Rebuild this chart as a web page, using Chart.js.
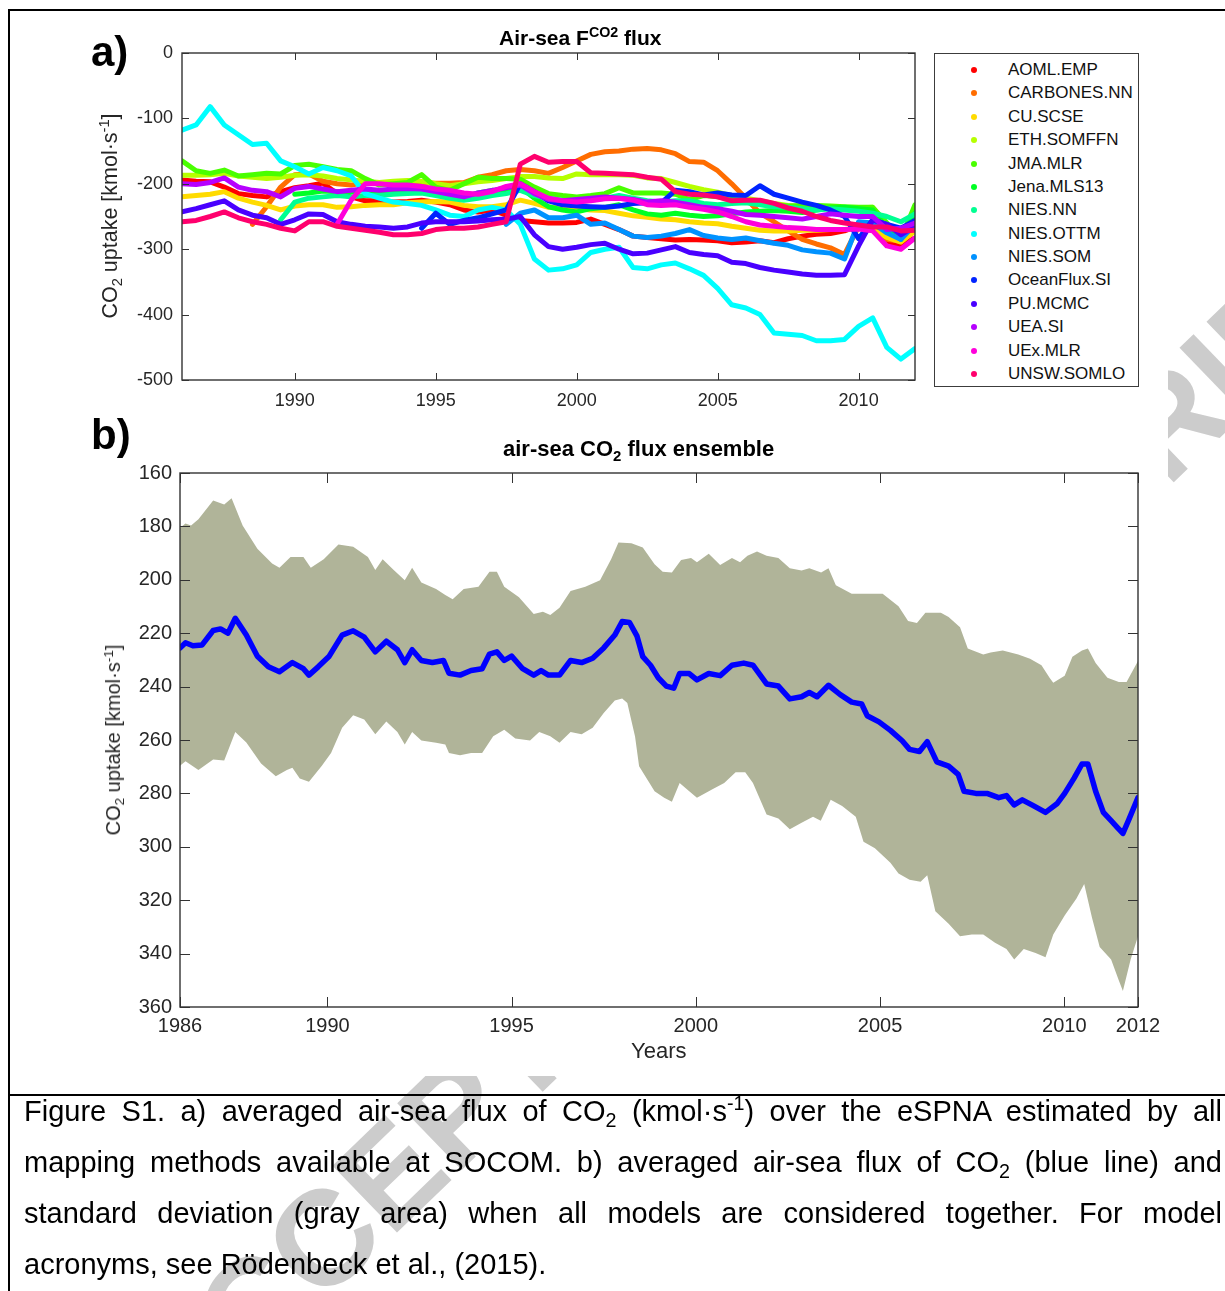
<!DOCTYPE html>
<html>
<head>
<meta charset="utf-8">
<title>Air-sea CO2 flux over the eSPNA</title>
<script src="https://cdn.jsdelivr.net/npm/chart.js@4.4.1/dist/chart.umd.min.js"></script>
<style>
  html, body { margin: 0; padding: 0; background: #fff; }
  body { width: 1225px; height: 1291px; position: relative; overflow: hidden;
         font-family: "Liberation Sans", Arial, Helvetica, sans-serif; color: #000; }
  .abs { position: absolute; }
  #wm { left: 0; top: 0; z-index: 0; }
  #sheet { left: 10px; top: 11px; width: 1158px; height: 1065px; background: #fff; z-index: 1; }
  #cTop { left: 0; top: 0; z-index: 2; }
  #cBot { left: 0; top: 420px; z-index: 2; }
  .rule { background: #000; z-index: 6; }
  .lbl { z-index: 3; line-height: 1; white-space: nowrap; color: #000; }
  .panel { font-weight: bold; font-size: 42px; }
  .ttl { font-weight: bold; font-size: 21px; }
  .ytitle { font-size: 20px; color: #262626; transform: translate(-50%, -50%) rotate(-90deg); }
  .xtitle { font-size: 22px; color: #262626; }
  sup.s, sub.s { font-size: 0.68em; position: relative; vertical-align: baseline; line-height: 0; }
  sup.s { top: -0.55em; }
  sub.s { top: 0.32em; }
  #legend { left: 934px; top: 53px; width: 205px; height: 334px; box-sizing: border-box;
            border: 1px solid #3c3c3c; background: #fff; z-index: 3; }
  .lgRow { position: absolute; left: 0; width: 100%; height: 20px; }
  .dot { position: absolute; left: 36px; width: 6px; height: 6px; border-radius: 50%; }
  .lgTxt { position: absolute; left: 73px; font-size: 17px; line-height: 1; white-space: nowrap; color: #111; }
  #caption { left: 24px; top: 1086px; width: 1198px; font-size: 29px; line-height: 51px; z-index: 3; color: #000; }
  #caption .j { text-align: justify; text-align-last: justify; }
</style>
</head>
<body>
<canvas id="wm" class="abs" width="1225" height="1291"></canvas>
<div id="sheet" class="abs"></div>

<canvas id="cTop" class="abs" width="1225" height="420"></canvas>
<canvas id="cBot" class="abs" width="1225" height="660"></canvas>

<div class="abs lbl panel" style="left:91px; top:31px;">a)</div>
<div class="abs lbl panel" style="left:91px; top:414px;">b)</div>

<div class="abs lbl ttl" style="left:499px; top:27px;">Air-sea F<sup class="s">CO2</sup> flux</div>
<div class="abs lbl ttl" style="left:503px; top:438px; font-size:22px;">air-sea CO<sub class="s">2</sub> flux ensemble</div>

<div class="abs lbl ytitle" style="left:111px; top:216px; font-size:21.5px;">CO<sub class="s">2</sub> uptake [kmol·s<sup class="s">-1</sup>]</div>
<div class="abs lbl ytitle" style="left:113px; top:740px;">CO<sub class="s">2</sub> uptake [kmol·s<sup class="s">-1</sup>]</div>
<div class="abs lbl xtitle" style="left:631px; top:1040px;">Years</div>

<div id="legend" class="abs"></div>

<div class="abs rule" style="left:8px; top:9px; width:1217px; height:2px;"></div>
<div class="abs rule" style="left:8px; top:9px; width:2px; height:1282px;"></div>
<div class="abs rule" style="left:8px; top:1094px; width:1217px; height:2px;"></div>

<div id="caption" class="abs">
  <div class="j">Figure S1. a) averaged air-sea flux of CO<sub class="s">2</sub> (kmol·s<sup class="s">-1</sup>) over the eSPNA estimated by all</div>
  <div class="j">mapping methods available at SOCOM. b) averaged air-sea flux of CO<sub class="s">2</sub> (blue line) and</div>
  <div class="j">standard deviation (gray area) when all models are considered together. For model</div>
  <div>acronyms, see Rödenbeck et al., (2015).</div>
</div>

<script>
// ---------- Panel a: flux estimated by each mapping method (half-year samples) ----------
const years = [1986, 1986.5, 1987, 1987.5, 1988, 1988.5, 1989, 1989.5, 1990, 1990.5,
               1991, 1991.5, 1992, 1992.5, 1993, 1993.5, 1994, 1994.5, 1995, 1995.5,
               1996, 1996.5, 1997, 1997.5, 1998, 1998.5, 1999, 1999.5, 2000, 2000.5,
               2001, 2001.5, 2002, 2002.5, 2003, 2003.5, 2004, 2004.5, 2005, 2005.5,
               2006, 2006.5, 2007, 2007.5, 2008, 2008.5, 2009, 2009.5, 2010, 2010.5,
               2011, 2011.5, 2012];

const seriesNames = ['AOML.EMP', 'CARBONES.NN', 'CU.SCSE', 'ETH.SOMFFN', 'JMA.MLR', 'Jena.MLS13',
                     'NIES.NN', 'NIES.OTTM', 'NIES.SOM', 'OceanFlux.SI', 'PU.MCMC', 'UEA.SI',
                     'UEx.MLR', 'UNSW.SOMLO'];

const seriesColors = ['#ff0000', '#ff6d00', '#ffdb00', '#b6ff00', '#49ff00', '#00ff24', '#00ff92',
                      '#00ffff', '#0092ff', '#0024ff', '#4900ff', '#b600ff', '#ff00db', '#ff006d'];

const aomlEmp = [-194,-196,-197,-205,-215,-218,-220,-212,-206,-203,
                 -199,-215,-220,-226,-226,-228,-227,-225,-228,-232,
                 -240,-243,-240,-248,-256,-258,-260,-260,-259,-254,
                 -262,-270,-280,-282,-284,-286,-285,-286,-287,-290,
                 -289,-287,-290,-284,-280,-277,-276,-272,-264,-262,
                 -292,-294,-283];

const carbonesNn = [null,null,null,null,null,
                    -262,-235,-205,-186,-185,-196,-200,-202,-198,-198,
                    -198,-197,-198,-199,-199,-198,-190,-186,-180,-178,
                    -180,-184,-175,-165,-155,-151,-150,-147,-146,-148,
                    -154,-166,-167,-180,-200,-222,-245,-258,-272,-285,
                    -292,-298,-308,-265,-262,-285,-288,-272];

const cuScse = [-220,-218,-216,-212,-222,-228,-233,-240,-234,-232,
                -232,-236,-235,-233,-232,-232,-229,-228,-227,-228,
                -233,-235,-235,-232,-225,-230,-236,-236,-238,-240,
                -241,-245,-249,-251,-254,-255,-258,-260,-261,-265,
                -268,-271,-272,-272,-271,-271,-270,-270,-268,-270,
                -282,-289,-272];

const ethSomffn = [-187,-187,-186,-184,-188,-190,-192,-190,-187,-186,
                   -188,-192,-194,-196,-198,-196,-195,-196,-200,-203,
                   -200,-197,-195,-192,-189,-189,-191,-192,-185,-186,
                   -186,-186,-187,-191,-192,-198,-204,-209,-213,-218,
                   -222,-226,-230,-233,-235,-236,-236,-237,-237,-236,
                   -262,-275,-262];

const jmaMlr = [-165,-180,-184,-179,-188,-186,-184,-185,-172,-170,
                -174,-178,-180,-192,-202,-200,-198,-186,-205,-210,
                -200,-190,-192,-192,-193,-205,-215,-218,-220,-218,
                -215,-206,-214,-214,-214,-216,-224,-218,-220,-224,
                -228,-230,-232,-234,-233,-233,-234,-235,-236,-236,
                -260,-285,-232];

const jenaMls13 = [null,null,null,null,null,null,null,null,
                   -216,-214,-211,-212,-212,-210,-212,-213,-212,-210,
                   -213,-218,-222,-214,-210,-212,-205,-222,-235,-240,
                   -243,-238,-236,-232,-240,-246,-248,-245,-248,-250,
                   -249,-246,-243,-242,-241,-242,-244,-240,-237,-236,
                   -238,-240,-268,-285,-245];

const niesNn = [null,null,null,null,null,null,null,
                -255,-228,-222,-220,-218,-220,-218,-218,-216,-215,
                -214,-218,-222,-225,-222,-218,-215,-210,-218,-222,
                -225,-228,-225,-222,-218,-222,-226,-228,-226,-226,
                -230,-232,-230,-229,-232,-235,-236,-238,-240,-238,
                -240,-242,-245,-250,-258,-246];

const niesOttm = [-118,-110,-82,-110,-125,-140,-138,-165,-174,-185,
                  -175,-180,-188,-215,-222,-228,-230,-233,-240,-248,
                  -250,-240,-236,-240,-262,-315,-332,-330,-324,-305,
                  -300,-297,-328,-330,-324,-321,-330,-340,-360,-385,
                  -390,-400,-428,-430,-432,-440,-440,-438,-418,-405,
                  -450,-468,-452];

const niesSom = [null,null,null,null,null,null,null,null,null,null,
                 null,null,null,null,null,null,null,null,null,null,
                 null,null,null,
                 -262,-245,-240,-252,-252,-248,-262,-260,-270,-280,
                 -282,-280,-276,-270,-279,-283,-285,-283,-287,-291,
                 -294,-301,-304,-306,-315,-258,-260,-275,-285,-262];

const oceanFluxSi = [null,null,null,null,null,null,null,null,null,null,
                     null,null,null,null,null,null,null,
                     -268,-245,-262,-256,-252,-246,-240,-200,-212,-226,
                     -232,-234,-235,-236,-234,-230,-229,-229,-210,-212,
                     -217,-214,-217,-218,-203,-216,-222,-228,-233,-240,
                     -250,-284,-255,-262,-268,-256];

const puMcmc = [-243,-238,-232,-226,-240,-248,-252,-262,-255,-246,
                -247,-258,-262,-265,-266,-268,-266,-260,-258,-258,
                -258,-257,-255,-254,-250,-278,-296,-300,-297,-293,
                -291,-300,-307,-306,-301,-296,-305,-308,-310,-320,
                -322,-328,-332,-335,-338,-340,-340,-339,-295,-255,
                -262,-278,-265];

const ueaSi = [-200,-201,-198,-191,-205,-210,-212,-220,-207,-204,
               -208,-212,-210,-208,-210,-208,-207,-208,-212,-216,
               -220,-214,-210,-206,-202,-215,-224,-226,-224,-222,
               -220,-222,-224,-228,-226,-228,-232,-236,-238,-242,
               -247,-248,-250,-252,-254,-250,-246,-248,-250,-250,
               -270,-268,-260];

const uexMlr = [null,null,null,null,null,null,null,null,null,null,null,
                -262,-225,-200,-200,-202,-202,-204,-208,-210,-214,
                -216,-212,-204,-200,-212,-222,-226,-228,-226,-223,
                -222,-225,-232,-233,-232,-236,-239,-243,-250,-258,
                -263,-265,-267,-268,-270,-270,-270,-269,-272,-295,
                -300,-283];

const unswSomlo = [-258,-256,-250,-243,-252,-258,-262,-268,-272,-258,
                   -258,-265,-268,-271,-274,-278,-278,-276,-270,-268,
                   -268,-266,-262,-258,-170,-158,-167,-166,-166,-183,
                   -184,-185,-186,-190,-193,-212,-216,-217,-220,-226,
                   -225,-225,-230,-237,-242,-250,-256,-260,-263,-266,
                   -266,-272,-271];

const seriesValues = [aomlEmp, carbonesNn, cuScse, ethSomffn, jmaMlr, jenaMls13, niesNn,
                      niesOttm, niesSom, oceanFluxSi, puMcmc, ueaSi, uexMlr, unswSomlo];

const topXTicks = [1990, 1995, 2000, 2005, 2010];
const topYTicks = [0, -100, -200, -300, -400, -500];

// ---------- Panel b: ensemble mean and +/- one standard deviation ----------
const meanYears = [1986.0, 1986.15, 1986.35, 1986.6, 1986.9, 1987.1, 1987.3, 1987.5, 1987.8, 1988.1,
                   1988.4, 1988.7, 1989.05, 1989.35, 1989.5, 1989.75, 1990.05, 1990.4, 1990.7, 1991.0,
                   1991.3, 1991.6, 1991.9, 1992.1, 1992.3, 1992.55, 1992.85, 1993.15, 1993.3, 1993.6,
                   1993.9, 1994.2, 1994.4, 1994.6, 1994.8, 1995.0, 1995.3, 1995.6, 1995.8, 1996.0,
                   1996.3, 1996.6, 1996.9, 1997.2, 1997.5, 1997.8, 1998.0, 1998.2, 1998.4, 1998.56,
                   1998.77, 1998.98, 1999.2, 1999.4, 1999.56, 1999.82, 2000.03, 2000.35, 2000.66, 2000.98,
                   2001.3, 2001.55, 2001.92, 2002.24, 2002.55, 2002.87, 2003.08, 2003.29, 2003.6, 2003.92,
                   2004.23, 2004.5, 2004.65, 2004.97, 2005.28, 2005.6, 2005.8, 2006.07, 2006.28, 2006.54,
                   2006.86, 2007.12, 2007.28, 2007.6, 2007.9, 2008.22, 2008.43, 2008.64, 2008.86, 2009.17,
                   2009.49, 2009.8, 2010.01, 2010.27, 2010.48, 2010.64, 2010.85, 2011.06, 2011.27, 2011.43,
                   2011.59, 2011.74, 2012.0];
const meanFlux = [225.5, 223.6, 224.7, 224.4, 219.0, 218.4, 220.0, 214.4, 220.7, 228.6,
                  232.6, 234.4, 231.0, 233.3, 235.7, 232.6, 228.6, 220.7, 219.1, 221.5,
                  227.0, 223.0, 226.2, 231.0, 226.2, 230.2, 231.0, 230.2, 235.0, 235.7,
                  234.0, 233.3, 227.8, 227.0, 230.2, 228.6, 233.3, 235.7, 234.0, 235.7,
                  235.7, 230.2, 231.0, 229.4, 225.5, 220.7, 215.6, 216.0, 221.0, 228.8,
                  232.0, 236.7, 239.8, 240.6, 235.1, 235.1, 237.5, 235.1, 235.9, 232.0,
                  231.2, 232.0, 239.0, 239.8, 244.6, 243.8, 242.2, 243.8, 239.5, 243.0,
                  245.8, 246.5, 250.9, 253.2, 256.4, 260.3, 263.5, 264.3, 260.6, 268.2,
                  269.8, 272.9, 279.2, 280.0, 280.0, 281.6, 280.8, 284.3, 282.4, 284.7,
                  287.1, 283.9, 280.0, 274.2, 269.0, 269.0, 279.2, 287.1, 290.2, 292.6,
                  295.0, 290.2, 281.6];

const upperYears = [1986.0, 1986.15, 1986.3, 1986.5, 1986.9, 1987.2, 1987.4, 1987.7, 1988.1, 1988.5,
                    1988.7, 1989.0, 1989.35, 1989.55, 1989.9, 1990.3, 1990.7, 1991.1, 1991.3, 1991.5,
                    1991.8, 1992.1, 1992.3, 1992.55, 1992.95, 1993.2, 1993.4, 1993.7, 1994.1, 1994.4,
                    1994.6, 1994.8, 1995.2, 1995.6, 1995.85, 1996.05, 1996.3, 1996.6, 1997.0, 1997.4,
                    1997.7, 1997.9, 1998.25, 1998.56, 1998.88, 1999.1, 1999.35, 1999.6, 1999.87, 2000.03,
                    2000.35, 2000.66, 2000.98, 2001.2, 2001.4, 2001.66, 2001.92, 2002.24, 2002.55, 2002.87,
                    2003.08, 2003.4, 2003.6, 2003.8, 2004.23, 2004.65, 2005.07, 2005.5, 2005.76, 2006.0,
                    2006.23, 2006.65, 2006.86, 2007.17, 2007.38, 2007.8, 2008.0, 2008.33, 2008.75, 2009.07,
                    2009.38, 2009.6, 2009.7, 2010.01, 2010.22, 2010.48, 2010.64, 2010.85, 2011.17, 2011.48,
                    2011.69, 2012.0];
const upperFlux = [180.5, 178.9, 179.7, 177.3, 170.3, 171.8, 169.5, 179.7, 188.4, 193.9,
                   195.5, 191.5, 191.5, 195.5, 192.3, 186.8, 187.6, 191.5, 196.3, 192.3,
                   196.3, 200.2, 195.5, 201.0, 203.4, 205.7, 207.3, 203.4, 202.6, 197.0,
                   197.0, 202.6, 206.5, 212.8, 212.0, 213.2, 210.5, 204.2, 202.6, 200.2,
                   192.3, 186.0, 186.3, 187.9, 194.2, 197.0, 197.3, 192.6, 191.8, 193.4,
                   190.2, 194.5, 191.8, 193.4, 191.0, 189.4, 191.0, 191.8, 195.7, 196.5,
                   195.7, 197.3, 195.7, 202.0, 205.2, 205.2, 205.2, 209.9, 215.4, 216.2,
                   212.3, 212.3, 213.9, 217.8, 225.7, 228.0, 227.2, 226.5, 228.0, 229.6,
                   232.0, 236.7, 238.6, 235.9, 228.8, 226.5, 225.7, 231.2, 236.7, 238.3,
                   238.3, 230.4];

const lowerYears = [1986.0, 1986.15, 1986.5, 1986.9, 1987.2, 1987.5, 1987.8, 1988.2, 1988.6, 1988.9,
                    1989.05, 1989.25, 1989.5, 1989.85, 1990.1, 1990.4, 1990.7, 1991.0, 1991.3, 1991.6,
                    1991.9, 1992.1, 1992.3, 1992.55, 1992.95, 1993.2, 1993.3, 1993.6, 1993.9, 1994.2,
                    1994.5, 1994.8, 1995.1, 1995.5, 1995.75, 1996.05, 1996.3, 1996.6, 1996.9, 1997.2,
                    1997.5, 1997.8, 1998.0, 1998.14, 1998.35, 1998.46, 1998.67, 1998.88, 1999.14, 1999.35,
                    1999.56, 1999.82, 2000.03, 2000.45, 2000.77, 2001.08, 2001.34, 2001.55, 2001.92, 2002.24,
                    2002.55, 2002.87, 2003.18, 2003.39, 2003.66, 2003.97, 2004.34, 2004.55, 2004.86, 2005.28,
                    2005.5, 2005.8, 2006.1, 2006.28, 2006.5, 2006.86, 2007.17, 2007.49, 2007.8, 2008.12,
                    2008.43, 2008.64, 2008.9, 2009.22, 2009.49, 2009.7, 2010.01, 2010.33, 2010.54, 2010.75,
                    2010.96, 2011.27, 2011.48, 2011.59, 2011.8, 2012.0];
const lowerFlux = [269.6, 268.0, 271.2, 267.3, 267.7, 257.0, 260.9, 268.8, 273.6, 271.2,
                   270.4, 274.4, 275.6, 269.6, 264.9, 255.4, 250.7, 252.3, 257.8, 253.1,
                   257.0, 261.7, 257.0, 260.2, 261.0, 261.7, 264.9, 265.7, 264.9, 264.9,
                   258.6, 256.2, 259.4, 260.2, 257.0, 258.6, 261.0, 257.0, 257.8, 255.4,
                   249.9, 245.2, 244.5, 246.1, 258.7, 269.8, 274.5, 279.2, 281.6, 283.1,
                   276.1, 279.2, 281.6, 278.4, 276.1, 272.1, 272.1, 276.1, 287.9, 289.4,
                   293.4, 291.0, 288.7, 290.2, 282.4, 284.7, 288.7, 298.1, 300.5, 306.0,
                   310.0, 312.3, 313.1, 310.7, 324.1, 328.8, 333.5, 332.8, 332.8, 335.9,
                   338.3, 342.2, 338.3, 339.8, 341.4, 332.8, 325.7, 319.4, 313.9, 326.5,
                   337.5, 342.2, 350.1, 354.0, 342.2, 333.5];

const bottomXTicks = [1986, 1990, 1995, 2000, 2005, 2010, 2012];
const bottomYTicks = [160, 180, 200, 220, 240, 260, 280, 300, 320, 340, 360];

// ---------- shared drawing helpers ----------
const FONT = '"Liberation Sans", Arial, Helvetica, sans-serif';
const TICK_COLOR = '#262626';
Chart.defaults.font.family = FONT;
Chart.defaults.color = TICK_COLOR;

const toPoints = (xs, ys) => xs.map((x, i) => ({ x: x, y: ys[i] }));

// Box around the axes with inward tick marks on all four sides
const frameTicks = {
  id: 'frameTicks',
  afterDatasetsDraw(chart, args, opts) {
    const { ctx, chartArea: a } = chart;
    const xs = chart.scales.x, ys = chart.scales.y;
    const len = opts.len || 7;
    ctx.save();
    ctx.strokeStyle = opts.color || '#333';
    ctx.lineWidth = 1;
    ctx.beginPath();
    xs.ticks.forEach(t => {
      const px = Math.round(xs.getPixelForValue(t.value)) + 0.5;
      ctx.moveTo(px, a.bottom); ctx.lineTo(px, a.bottom - len);
      ctx.moveTo(px, a.top); ctx.lineTo(px, a.top + len);
    });
    ys.ticks.forEach(t => {
      const py = Math.round(ys.getPixelForValue(t.value)) + 0.5;
      ctx.moveTo(a.left, py); ctx.lineTo(a.left + len, py);
      ctx.moveTo(a.right, py); ctx.lineTo(a.right - len, py);
    });
    ctx.stroke();
    ctx.lineWidth = opts.frameWidth || 1.4;
    ctx.strokeRect(a.left, a.top, a.right - a.left, a.bottom - a.top);
    ctx.restore();
  }
};

function axis(opts) {
  const { min, max, ticks, size, pad, thick, vertical, reverse } = opts;
  return {
    type: 'linear', min: min, max: max, reverse: !!reverse,
    grid: { display: false, drawTicks: false },
    border: { display: false },
    afterBuildTicks: s => { s.ticks = ticks.map(v => ({ value: v })); },
    afterFit: s => { if (vertical) { s.width = thick; } else { s.height = thick; } },
    ticks: { font: { family: FONT, size: size }, color: TICK_COLOR, padding: pad,
             maxRotation: 0, autoSkip: false, callback: v => String(v) }
  };
}

// ---------- panel a ----------
const n = seriesNames.length;
const topDatasets = seriesNames.map((name, i) => ({
  label: name,
  data: toPoints(years, seriesValues[i]),
  borderColor: seriesColors[i],
  backgroundColor: seriesColors[i],
  borderWidth: 5,
  pointRadius: 0,
  fill: false,
  spanGaps: false,
  order: n - 1 - i        // later methods drawn over earlier ones
}));

new Chart(document.getElementById('cTop'), {
  type: 'line',
  data: { datasets: topDatasets },
  options: {
    responsive: false, animation: false, events: [],
    layout: { padding: { left: 122, right: 310, top: 53, bottom: 0 } },
    elements: { line: { tension: 0, borderCapStyle: 'round', borderJoinStyle: 'round' } },
    plugins: { legend: { display: false }, tooltip: { enabled: false }, frameTicks: { len: 7, color: '#333' } },
    scales: {
      x: axis({ min: 1986, max: 2012, ticks: topXTicks, size: 18, pad: 10, thick: 40 }),
      y: axis({ min: -500, max: 0, ticks: topYTicks, size: 18, pad: 9, thick: 60, vertical: true })
    }
  },
  plugins: [frameTicks]
});

// legend of panel a, built from the same names and colours
const legendBox = document.getElementById('legend');
seriesNames.forEach((name, i) => {
  const row = document.createElement('div');
  row.className = 'lgRow';
  row.style.top = (i * 23.38) + 'px';
  const dot = document.createElement('span');
  dot.className = 'dot';
  dot.style.background = seriesColors[i];
  dot.style.top = '13px';
  const txt = document.createElement('span');
  txt.className = 'lgTxt';
  txt.style.top = '7px';
  txt.textContent = name;
  row.appendChild(dot); row.appendChild(txt);
  legendBox.appendChild(row);
});

// ---------- panel b ----------
new Chart(document.getElementById('cBot'), {
  type: 'line',
  data: {
    datasets: [
      { label: 'ensemble mean', data: toPoints(meanYears, meanFlux), borderColor: '#0000ff',
        borderWidth: 5.5, pointRadius: 0, fill: false },
      { label: 'mean - std', data: toPoints(upperYears, upperFlux), borderColor: 'rgba(0,0,0,0)',
        borderWidth: 0, pointRadius: 0, backgroundColor: '#b0b499', fill: '+1' },
      { label: 'mean + std', data: toPoints(lowerYears, lowerFlux), borderColor: 'rgba(0,0,0,0)',
        borderWidth: 0, pointRadius: 0, fill: false }
    ]
  },
  options: {
    responsive: false, animation: false, events: [],
    layout: { padding: { left: 120, right: 87, top: 53, bottom: 33 } },
    elements: { line: { tension: 0, borderCapStyle: 'round', borderJoinStyle: 'round' } },
    plugins: { legend: { display: false }, tooltip: { enabled: false }, frameTicks: { len: 10, color: '#333' } },
    scales: {
      x: axis({ min: 1986, max: 2012, ticks: bottomXTicks, size: 20, pad: 7, thick: 40 }),
      y: axis({ min: 160, max: 360, ticks: bottomYTicks, size: 20, pad: 8, thick: 60, vertical: true, reverse: true })
    }
  },
  plugins: [frameTicks]
});

// ---------- page watermark ----------
const wctx = document.getElementById('wm').getContext('2d');
wctx.fillStyle = '#cccccc';
wctx.font = 'bold 135px ' + FONT;
wctx.translate(180, 1442);
wctx.rotate(-44 * Math.PI / 180);
wctx.fillText('ACCEPTED MANUSCRIPT', 0, 0);
</script>
</body>
</html>
